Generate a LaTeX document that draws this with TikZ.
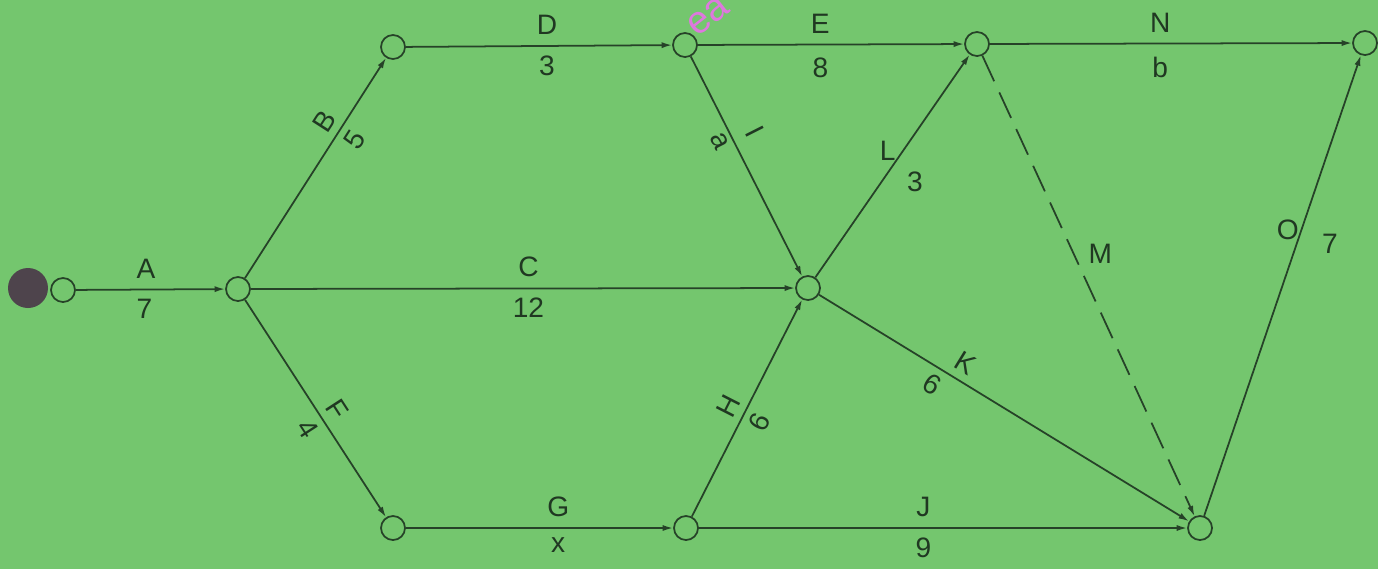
\documentclass[tikz,border=0pt]{standalone}
\usepackage{fontspec}
\setmainfont{Liberation Sans}
\usetikzlibrary{positioning, arrows.meta}

\definecolor{sheetgreen}{RGB}{116,198,110}
\definecolor{inkgreen}{RGB}{38,66,40}
\definecolor{stamppink}{RGB}{222,120,222}
\definecolor{holegray}{RGB}{78,68,76}

\tikzset{
    event/.style={circle, draw=inkgreen, line width=1pt, minimum size=0.48cm, inner sep=0pt},
    act/.style={draw=inkgreen, line width=1pt, -{Latex[length=6pt,width=3.5pt]}},
    dummy/.style={act, dash pattern=on 16pt off 7pt},
    lbl/.style={text=inkgreen!85!black, inner sep=1pt, font=\fontsize{16}{19}\selectfont}
}

\begin{document}
\begin{tikzpicture}[x=0.02cm, y=-0.02cm]
                % sheet
                \fill[sheetgreen] (0,0) rectangle (1378,569);
                \useasboundingbox (0,0) rectangle (1378,569);
                \fill[holegray] (28,288) circle (20);
                \node[rotate=38, text=stamppink, font=\fontsize{22}{26}\selectfont] (stamp) at (708,16) {ea};

                % events
                \node[event] (ev1) at (63,290) {};
                \node[event] (ev2) at (238,289) {};
                \node[event] (ev3) at (393,47) {};
                \node[event] (ev4) at (685,45) {};
                \node[event] (ev5) at (977,44) {};
                \node[event] (ev6) at (1365,43) {};
                \node[event] (ev7) at (808,288) {};
                \node[event] (ev8) at (393,528) {};
                \node[event] (ev9) at (686,528) {};
                \node[event] (ev10) at (1200,528) {};

                % activities
                \draw[act] (ev1) -- node[lbl, above=5pt, pos=.47] {A} node[lbl, below=4pt, pos=.46] {7} (ev2);
                \draw[act] (ev2) -- node[lbl, sloped, above=3pt, pos=.67] {B} node[lbl, sloped, below=3pt, pos=.67] {5} (ev3);
                \draw[act] (ev2) -- node[lbl, above=5pt, pos=.51] {C} node[lbl, below=4pt, pos=.51] {12} (ev7);
                \draw[act] (ev2) -- node[lbl, sloped, above=3pt, pos=.55] {F} node[lbl, sloped, below=3pt, pos=.55] {4} (ev8);
                \draw[act] (ev3) -- node[lbl, above=5pt, pos=.53] {D} node[lbl, below=4pt, pos=.53] {3} (ev4);
                \draw[act] (ev8) -- node[lbl, above=5pt, pos=.57] {G} node[lbl, below=4pt, pos=.57] {x} (ev9);
                \draw[act] (ev4) -- node[lbl, above=5pt, pos=.46] {E} node[lbl, below=6pt, pos=.46] {8} (ev5);
                \draw[act] (ev4) -- node[lbl, sloped, above=6pt, pos=.39] {I} node[lbl, sloped, below=1pt, pos=.36] {a} (ev7);
                \draw[act] (ev9) -- node[lbl, sloped, above=3pt, pos=.47] {H} node[lbl, sloped, below=3pt, pos=.47] {6} (ev7);
                \draw[act] (ev9) -- node[lbl, above=5pt, pos=.46] {J} node[lbl, below=4pt, pos=.46] {9} (ev10);
                \draw[act] (ev7) -- node[lbl, left=3pt, pos=.57] {L} node[lbl, right=13pt, pos=.43] {3} (ev5);
                \draw[act] (ev7) -- node[lbl, sloped, above=3pt, pos=.37] {K} node[lbl, sloped, below=3pt, pos=.33] {6} (ev10);
                \draw[dummy] (ev5) -- node[lbl, right=7pt, pos=.43] {M} (ev10);
                \draw[act] (ev5) -- node[lbl, above=5pt, pos=.47] {N} node[lbl, below=6pt, pos=.47] {b} (ev6);
                \draw[act] (ev10) -- node[lbl, left=0pt, pos=.62] {O} node[lbl, right=13pt, pos=.59] {7} (ev6);
            \end{tikzpicture}
\end{document}
